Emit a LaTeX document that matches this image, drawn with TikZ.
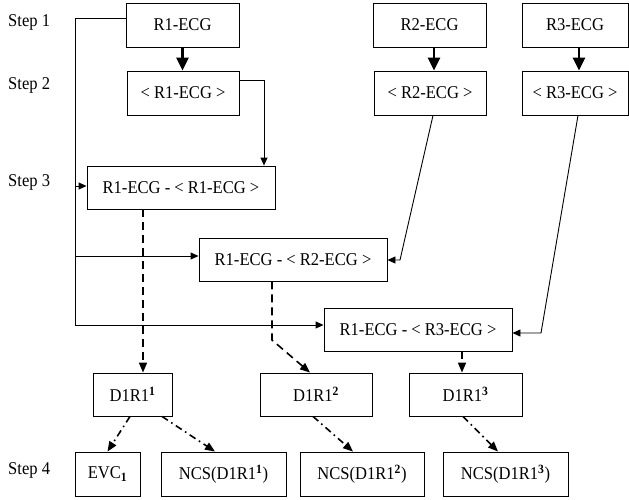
\documentclass[tikz,border=0pt]{standalone}
\usepackage{fontspec}
\setmainfont{Liberation Serif}[FakeStretch=0.92]
\usetikzlibrary{arrows.meta}
\begin{document}
\begin{tikzpicture}[x=1pt,y=-1pt,
  font=\fontsize{18}{20}\selectfont,
  box/.style={draw, line width=0.9pt, inner sep=0pt, align=center},
  steplabel/.style={anchor=west, inner sep=0pt},
  thickarr/.style={line width=2.6pt, -{Triangle[length=13pt,width=12pt]}},
  thinarr/.style={line width=0.9pt, -{Triangle[length=8pt,width=7pt]}},
  dasharr/.style={line width=1.6pt, dash pattern=on 8pt off 5pt, -{Triangle[length=10pt,width=8pt]}},
  dotarr/.style={line width=1.6pt, dash pattern=on 7pt off 4pt on 1.6pt off 4pt, -{Triangle[length=10pt,width=8pt]}}
]
\useasboundingbox (0,0) rectangle (629,499);

% step labels
\node[steplabel] (st1) at (8,22) {Step 1};
\node[steplabel] (st2) at (8,85) {Step 2};
\node[steplabel] (st3) at (8,182) {Step 3};
\node[steplabel] (st4) at (8,470) {Step 4};

% row 1
\node[box, minimum width=113pt, minimum height=44pt] (r1) at (182.5,25) {R1-ECG};
\node[box, minimum width=113pt, minimum height=44pt] (r2) at (429.5,25) {R2-ECG};
\node[box, minimum width=106pt, minimum height=44pt] (r3) at (575,25) {R3-ECG};
% row 2
\node[box, minimum width=112pt, minimum height=44pt] (a1) at (183,93) {< R1-ECG >};
\node[box, minimum width=112pt, minimum height=44pt] (a2) at (430,93) {< R2-ECG >};
\node[box, minimum width=106pt, minimum height=44pt] (a3) at (575,93) {< R3-ECG >};
% subtraction boxes
\node[box, minimum width=188pt, minimum height=43pt] (s1) at (181,187.5) {R1-ECG - < R1-ECG >};
\node[box, minimum width=188pt, minimum height=43pt] (s2) at (293,259.5) {R1-ECG - < R2-ECG >};
\node[box, minimum width=188pt, minimum height=43pt] (s3) at (418,329.5) {R1-ECG - < R3-ECG >};
% D1R1 boxes
\node[box, minimum width=79pt, minimum height=43pt] (d1) at (132.5,394.5) {D1R1\textsuperscript{\textbf{1}}};
\node[box, minimum width=112pt, minimum height=43pt] (d2) at (316,394.5) {D1R1\textsuperscript{\textbf{2}}};
\node[box, minimum width=113pt, minimum height=43pt] (d3) at (465.5,394.5) {D1R1\textsuperscript{\textbf{3}}};
% step 4 boxes
\node[box, minimum width=65pt, minimum height=44pt] (e1) at (107.5,474) {EVC\textsubscript{\textbf{1}}};
\node[box, minimum width=125pt, minimum height=44pt] (n1) at (223.5,474) {NCS(D1R1\textsuperscript{\textbf{1}})};
\node[box, minimum width=124pt, minimum height=44pt] (n2) at (362,474) {NCS(D1R1\textsuperscript{\textbf{2}})};
\node[box, minimum width=125pt, minimum height=44pt] (n3) at (505.5,474) {NCS(D1R1\textsuperscript{\textbf{3}})};

% thick arrows step 1 -> step 2
\draw[thickarr] (r1.south) -- (r1.south |- a1.north);
\draw[thickarr] ([xshift=4.5pt]r2.south) -- ([xshift=4.5pt]r2.south |- a2.north);
\draw[thickarr] ([xshift=4pt]r3.south) -- ([xshift=4pt]r3.south |- a3.north);

% left bus from R1-ECG
\coordinate (bus) at (75,325);
\coordinate (j1) at (75,186);
\coordinate (j2) at (75,256);
\draw[thinarr] ([yshift=7pt]r1.west) -| (bus) -- (bus -| s3.west);
\draw[thinarr] (j1) -- (j1 -| s1.west);
\draw[thinarr] (j2) -- (j2 -| s2.west);

% averaged signals to subtraction boxes
\coordinate (k1) at (264,80);
\draw[thinarr] (a1.east |- k1) -| (k1 |- s1.north);
\coordinate (k2) at (400,260);
\draw[thinarr] ([xshift=3pt]a2.south) -- (k2) -- (k2 -| s2.east);
\coordinate (k3) at (541,333);
\draw[thinarr] ([xshift=3pt]a3.south) -- (k3) -- (k3 -| s3.east);

% dashed arrows to D1R1 boxes
\coordinate (m1) at (143,0);
\draw[dasharr] (m1 |- s1.south) -- (m1 |- d1.north);
\coordinate (m2) at (272,340);
\draw[dasharr] (m2 |- s2.south) -- (m2) -- ([xshift=-6pt]d2.north);
\coordinate (m3) at (462,0);
\draw[dasharr] (m3 |- s3.south) -- (m3 |- d3.north);

% dash-dot arrows to step 4
\draw[dotarr] ([xshift=-2.5pt]d1.south) -- (e1.north);
\draw[dotarr] ([xshift=29.5pt]d1.south) -- ([xshift=-8.5pt]n1.north);
\draw[dotarr] ([xshift=-3pt]d2.south) -- ([xshift=-9pt]n2.north);
\draw[dotarr] ([xshift=-2.5pt]d3.south) -- ([xshift=-7.5pt]n3.north);
\end{tikzpicture}
\end{document}
